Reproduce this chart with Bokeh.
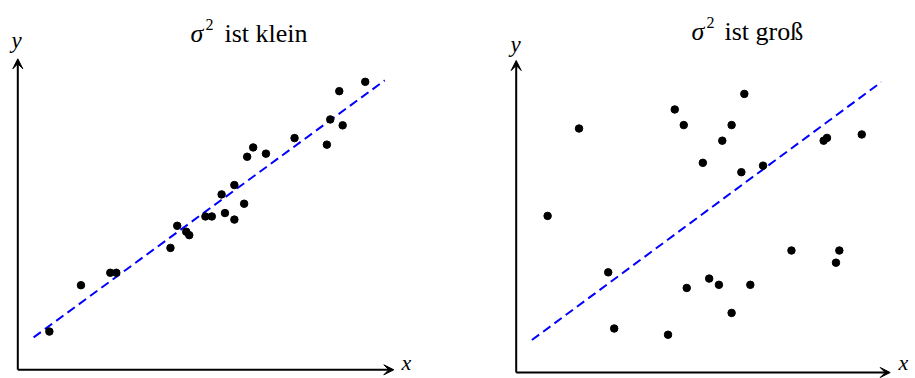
from bokeh.plotting import figure
from bokeh.layouts import row
from bokeh.models import Arrow, VeeHead, Label, Range1d
from bokeh.embed import file_html
from bokeh.resources import INLINE

# Shared x positions of the observations
x_vals = [0.84, 1.68, 2.46, 2.62, 4.06, 4.24, 4.48, 4.56, 4.99, 5.16, 5.42, 5.51,
          5.76, 5.76, 6.02, 6.10, 6.26, 6.60, 7.36, 8.22, 8.31, 8.55, 8.64, 9.24]

# Small error variance: points close to the regression line
y_klein = [1.23, 2.72, 3.12, 3.12, 3.92, 4.63, 4.44, 4.33, 4.93, 4.93, 5.64, 5.04,
           5.94, 4.83, 5.34, 6.85, 7.15, 6.95, 7.45, 7.24, 8.05, 8.96, 7.86, 9.26]

# Large error variance: points widely scattered
y_gross = [5.02, 7.82, 3.21, 1.41, 1.21, 8.43, 7.93, 2.71, 6.72, 3.01, 2.81, 7.43,
           7.93, 1.91, 6.42, 8.93, 2.81, 6.63, 3.91, 7.43, 7.52, 3.52, 3.91, 7.63]

# Regression line (same in both panels)
fit_intercept = 0.67
fit_slope = 0.885
fit_x = [0.42, 9.76]

# Axis extent in data units
axis_len = 10

titles = ["ist klein", "ist groß"]

SERIF = "Liberation Serif"
H = 378


def panel(width, px_origin_x, px_origin_y, sx, sy, ys, title_rest, sigma_x, two_x, rest_x, base_y,
          ylab_x, ylab_y, xlab_x, xlab_y):
    # ranges chosen so that data (0, 0) lands on the given pixel position
    x0 = -px_origin_x / sx
    y0 = -(H - px_origin_y) / sy
    p = figure(width=width, height=H, output_backend="svg", toolbar_location=None,
               x_axis_location=None, y_axis_location=None, min_border=0,
               x_range=Range1d(x0, x0 + width / sx), y_range=Range1d(y0, y0 + H / sy))
    p.outline_line_color = None
    p.background_fill_color = "white"
    p.border_fill_color = "white"
    p.grid.visible = False

    # axes with arrow heads
    for xe, ye in [(axis_len, 0), (0, axis_len)]:
        p.add_layout(Arrow(x_start=0, y_start=0, x_end=xe, y_end=ye, line_width=2,
                           line_color="black",
                           end=VeeHead(size=10, fill_color="black", line_color="black",
                                       line_width=1)))

    fy = [fit_intercept + fit_slope * v for v in fit_x]
    p.line(fit_x, fy, line_color="#0000ff", line_width=2, line_dash="9 5")
    p.scatter(x_vals, ys, size=7.5, color="black")

    def lab(text, x, y, size, style="normal", baseline="alphabetic"):
        p.add_layout(Label(x=x, y=H - y, x_units="screen", y_units="screen", text=text,
                           text_font=SERIF, text_font_size=f"{size}px",
                           text_font_style=style, text_color="black",
                           text_baseline=baseline, text_align="left"))

    lab("σ", sigma_x, base_y, 26, "italic")
    lab("2", two_x, base_y - 9, 16)
    lab(title_rest, rest_x, base_y, 26)
    lab("y", ylab_x, ylab_y, 23, "italic")
    lab("x", xlab_x, xlab_y, 22, "italic", "middle")
    return p


p1 = panel(457, 17.3, 369.3, 37.6, 31.1, y_klein, titles[0],
           190, 205, 224, 33, 11, 40, 401, 362)
p2 = panel(458, 515.7 - 457, 372.0, 37.4, 31.2, y_gross, titles[1],
           691 - 457, 706 - 457, 724 - 457, 31, 510 - 457, 44, 898 - 457, 362)

layout = row(p1, p2, spacing=0)
open("out.html", "w").write(file_html(layout, INLINE))
